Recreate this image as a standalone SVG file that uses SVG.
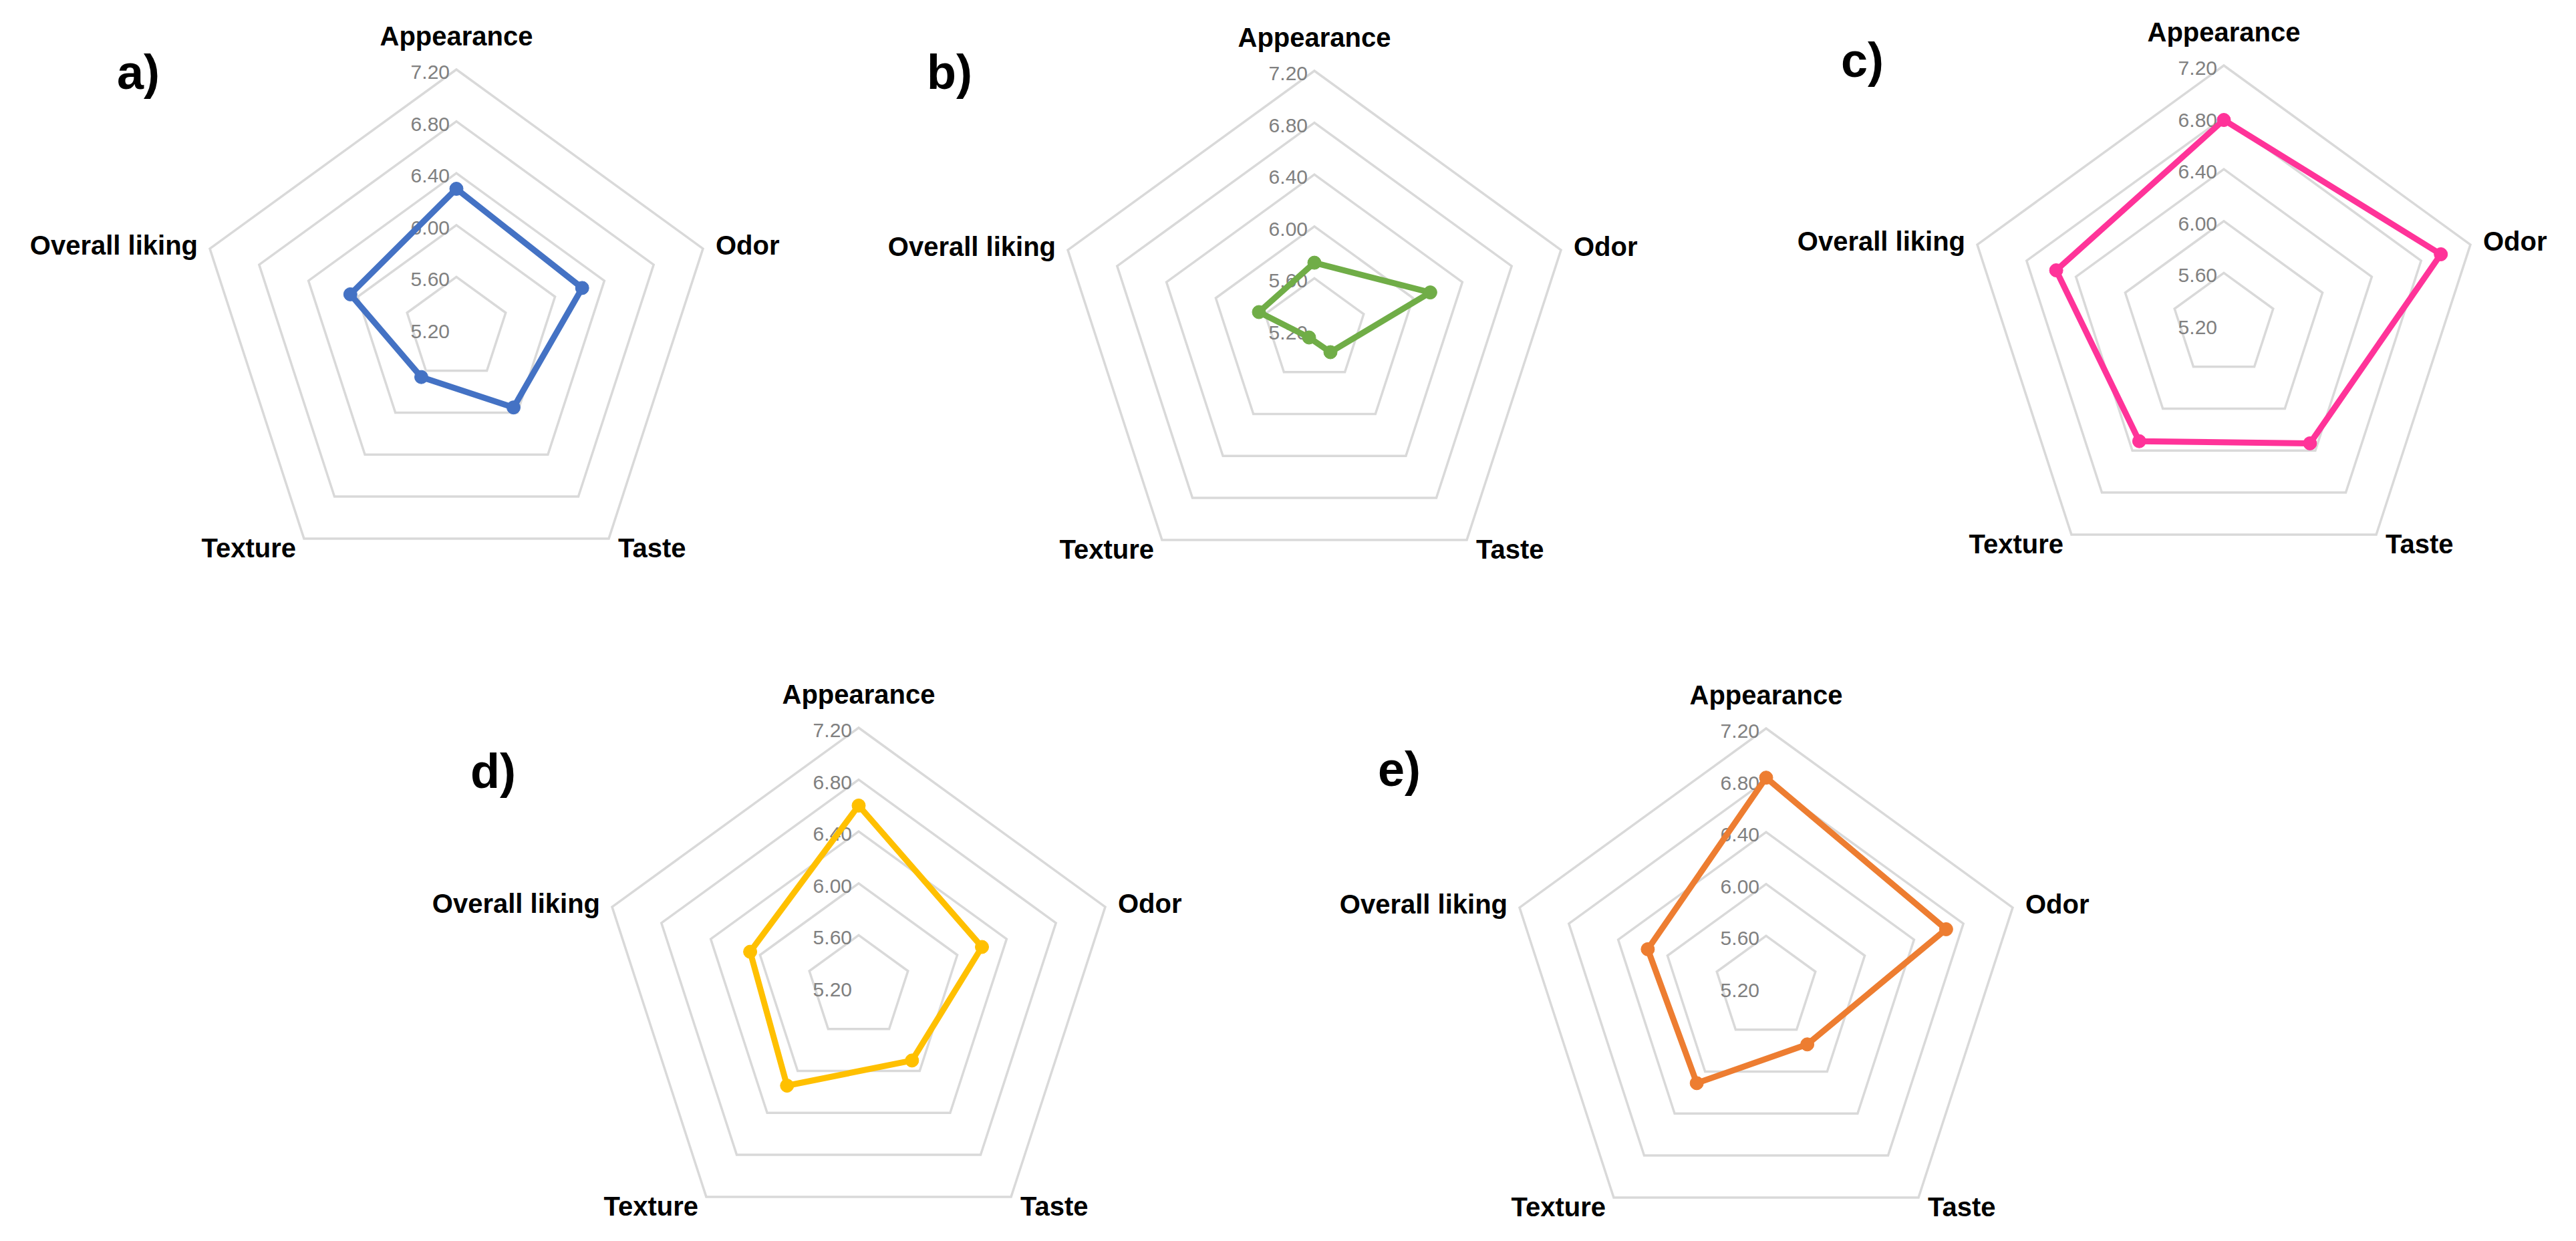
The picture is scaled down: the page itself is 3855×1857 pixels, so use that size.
<svg xmlns="http://www.w3.org/2000/svg" xmlns:xlink="http://www.w3.org/1999/xlink" width="3855" height="1857" viewBox="0 0 3855 1857">
<style>
.ring{fill:none;stroke:#D9D9D9;stroke-width:3.5}
.tick{font-family:"Liberation Sans",Arial,sans-serif;font-size:30px;fill:#808080;text-anchor:end}
.ax{font-family:"Liberation Sans",Arial,sans-serif;font-size:40px;font-weight:bold;fill:#000}
.pl{font-family:"Liberation Sans",Arial,sans-serif;font-size:72px;font-weight:bold;fill:#000}
.s{fill:none;stroke-width:9;stroke-linejoin:round}
</style>
<defs>
<g id="grid">
<polygon class="ring" points="0,-77.6 73.8,-24 45.6,62.8 -45.6,62.8 -73.8,-24"/>
<polygon class="ring" points="0,-155.2 147.6,-48 91.3,125.6 -91.3,125.6 -147.6,-48"/>
<polygon class="ring" points="0,-232.8 221.4,-71.9 136.9,188.3 -136.9,188.3 -221.4,-71.9"/>
<polygon class="ring" points="0,-310.4 295.2,-95.9 182.5,251.1 -182.5,251.1 -295.2,-95.9"/>
<polygon class="ring" points="0,-388 369,-119.9 228.1,313.9 -228.1,313.9 -369,-119.9"/>
<text class="tick" x="-10" y="-374">7.20</text>
<text class="tick" x="-10" y="-296">6.80</text>
<text class="tick" x="-10" y="-219">6.40</text>
<text class="tick" x="-10" y="-141">6.00</text>
<text class="tick" x="-10" y="-64">5.60</text>
<text class="tick" x="-10" y="14">5.20</text>
<text class="ax" x="0" y="-424" text-anchor="middle">Appearance</text>
<text class="ax" x="388" y="-111">Odor</text>
<text class="ax" x="242" y="342">Taste</text>
<text class="ax" x="-240" y="342" text-anchor="end">Texture</text>
<text class="ax" x="-387" y="-111" text-anchor="end">Overall liking</text>
</g>
</defs>
<rect width="3855" height="1857" fill="#fff"/>
<g id="chart-a" transform="translate(683,492)">
<use xlink:href="#grid"/>
<g stroke="#4472C4" fill="#4472C4">
<polygon class="s" points="0,-209.5 188.2,-61.1 85.5,117.7 -52.5,72.2 -158.7,-51.6"/>
<circle r="10" cx="0" cy="-209.5"/><circle r="10" cx="188.2" cy="-61.1"/><circle r="10" cx="85.5" cy="117.7"/><circle r="10" cx="-52.5" cy="72.2"/><circle r="10" cx="-158.7" cy="-51.6"/>
</g>
</g>
<text class="pl" x="175" y="133">a)</text>
<g id="chart-b" transform="translate(1967,494)">
<use xlink:href="#grid"/>
<g stroke="#70AD47" fill="#70AD47">
<polygon class="s" points="0,-100.9 173.4,-56.4 24,33 -8,11 -83,-27"/>
<circle r="10" cx="0" cy="-100.9"/><circle r="10" cx="173.4" cy="-56.4"/><circle r="10" cx="24" cy="33"/><circle r="10" cx="-8" cy="11"/><circle r="10" cx="-83" cy="-27"/>
</g>
</g>
<text class="pl" x="1387" y="133">b)</text>
<g id="chart-c" transform="translate(3328,486)">
<use xlink:href="#grid"/>
<g stroke="#FF3399" fill="#FF3399">
<polygon class="s" points="0,-306.5 324.7,-105.5 128.9,177.4 -126.6,174.2 -250.9,-81.5"/>
<circle r="10" cx="0" cy="-306.5"/><circle r="10" cx="324.7" cy="-105.5"/><circle r="10" cx="128.9" cy="177.4"/><circle r="10" cx="-126.6" cy="174.2"/><circle r="10" cx="-250.9" cy="-81.5"/>
</g>
</g>
<text class="pl" x="2755" y="115">c)</text>
<g id="chart-d" transform="translate(1285,1477)">
<use xlink:href="#grid"/>
<g stroke="#FFC000" fill="#FFC000">
<polygon class="s" points="0,-271.6 184.5,-60 79.8,109.9 -107.2,147.5 -162.4,-52.8"/>
<circle r="10" cx="0" cy="-271.6"/><circle r="10" cx="184.5" cy="-60"/><circle r="10" cx="79.8" cy="109.9"/><circle r="10" cx="-107.2" cy="147.5"/><circle r="10" cx="-162.4" cy="-52.8"/>
</g>
</g>
<text class="pl" x="704" y="1179">d)</text>
<g id="chart-e" transform="translate(2643,1478)">
<use xlink:href="#grid"/>
<g stroke="#ED7D31" fill="#ED7D31">
<polygon class="s" points="0,-314.3 269.4,-87.5 61.6,84.8 -103.8,142.8 -177.1,-57.6"/>
<circle r="10" cx="0" cy="-314.3"/><circle r="10" cx="269.4" cy="-87.5"/><circle r="10" cx="61.6" cy="84.8"/><circle r="10" cx="-103.8" cy="142.8"/><circle r="10" cx="-177.1" cy="-57.6"/>
</g>
</g>
<text class="pl" x="2062" y="1176">e)</text>
<g id="connectors"/>
</svg>
